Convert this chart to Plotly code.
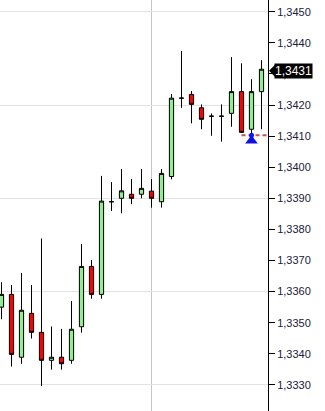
import plotly.graph_objects as go

idx = list(range(27))
opens = [1.33550, 1.33591, 1.33389, 1.33530, 1.33469, 1.33379, 1.33389, 1.33379, 1.33487, 1.33681,
         1.33591, 1.33889, 1.33900, 1.33913, 1.33913, 1.33923, 1.33889, 1.33970, 1.34222, 1.34234,
         1.34191, 1.34164, 1.34164, 1.34173, 1.34243, 1.34122, 1.34243]
highs = [1.33630, 1.33621, 1.33660, 1.33621, 1.33771, 1.33488, 1.33480, 1.33570, 1.33753, 1.33702,
         1.33972, 1.33952, 1.33994, 1.33962, 1.33994, 1.33962, 1.33994, 1.34235, 1.34374, 1.34245,
         1.34202, 1.34173, 1.34202, 1.34354, 1.34334, 1.34283, 1.34344]
lows = [1.33511, 1.33359, 1.33368, 1.33449, 1.33297, 1.33349, 1.33349, 1.33368, 1.33468, 1.33577,
        1.33577, 1.33859, 1.33852, 1.33881, 1.33900, 1.33870, 1.33870, 1.33961, 1.34191, 1.34141,
        1.34122, 1.34101, 1.34082, 1.34130, 1.34110, 1.34105, 1.34122]
closes = [1.33591, 1.33398, 1.33540, 1.33469, 1.33379, 1.33389, 1.33368, 1.33479, 1.33681, 1.33591,
          1.33891, 1.33889, 1.33924, 1.33900, 1.33932, 1.33900, 1.33980, 1.34222, 1.34222, 1.34202,
          1.34154, 1.34164, 1.34164, 1.34243, 1.34112, 1.34243, 1.34315]

last_price = 1.3431
last_label = "1,3431"
stop_level = 1.34103
stop_start = 24
signal_x = [25]
signal_dot_y = [1.34103]
signal_tri_y = [1.34085]
tick_vals = [1.3330 + 0.001 * i for i in range(13)]
grid_vals = [1.3330, 1.3360, 1.3390, 1.3420, 1.3450]
vgrid_x = [15]

y_range = [1.332161, 1.345376]
x_range = [-0.15, 26.65]

fig = go.Figure()
# grid-only overlay axis
fig.add_trace(go.Scatter(x=[None], y=[None], yaxis="y2", showlegend=False, hoverinfo="skip"))
fig.add_trace(go.Candlestick(
    x=idx, open=opens, high=highs, low=lows, close=closes,
    increasing=dict(line=dict(color="black", width=1), fillcolor="#90ee90"),
    decreasing=dict(line=dict(color="black", width=1), fillcolor="#ff0000"),
    whiskerwidth=0, showlegend=False, hoverinfo="skip",
))
fig.add_trace(go.Scatter(
    x=[stop_start, x_range[1]], y=[stop_level, stop_level], mode="lines",
    line=dict(color="#c85050", width=2, dash="4px,3px"), showlegend=False, hoverinfo="skip",
    cliponaxis=True,
))
fig.add_trace(go.Scatter(
    x=signal_x, y=signal_tri_y, mode="markers",
    marker=dict(symbol="triangle-up", size=11, color="#1010e0"), showlegend=False, hoverinfo="skip",
))
fig.add_trace(go.Scatter(
    x=signal_x, y=signal_dot_y, mode="markers",
    marker=dict(symbol="circle", size=5, color="#1010ff"), showlegend=False, hoverinfo="skip",
))

fig.add_annotation(
    xref="paper", yref="y", x=1, y=last_price, xanchor="left", yanchor="middle",
    xshift=6, text=last_label, showarrow=False, bgcolor="black",
    font=dict(color="white", size=12, family="Liberation Sans, Arial"), borderpad=0,
)
fig.add_shape(
    type="path", xref="paper", yref="y", xsizemode="pixel", ysizemode="pixel",
    xanchor=1, yanchor=last_price, path="M 1,0 L 7,-6 L 7,6 Z",
    fillcolor="black", line=dict(width=0), layer="above",
)

fig.update_layout(
    width=325, height=411, margin=dict(l=0, r=57, t=0, b=0),
    paper_bgcolor="white", plot_bgcolor="white",
    separators=",.", boxgap=0.4,
    font=dict(family="Liberation Sans, Arial", size=11, color="#20203a"),
    xaxis=dict(range=x_range, rangeslider=dict(visible=False), showticklabels=False,
               tickvals=vgrid_x, showgrid=True, gridcolor="#c4c4c4", gridwidth=1,
               zeroline=False, showline=False, ticks=""),
    yaxis=dict(range=y_range, side="right", tickvals=tick_vals, tickformat=".4f",
               showgrid=False, zeroline=False, showline=True, linecolor="black", linewidth=1,
               ticks="outside", ticklen=6, tickcolor="black", tickwidth=1),
    yaxis2=dict(range=y_range, overlaying="y", side="right", tickvals=grid_vals,
                showticklabels=False, showgrid=True, gridcolor="#e2e2e2", gridwidth=1,
                zeroline=False, showline=False, ticks=""),
)
fig.write_html("out.html")
